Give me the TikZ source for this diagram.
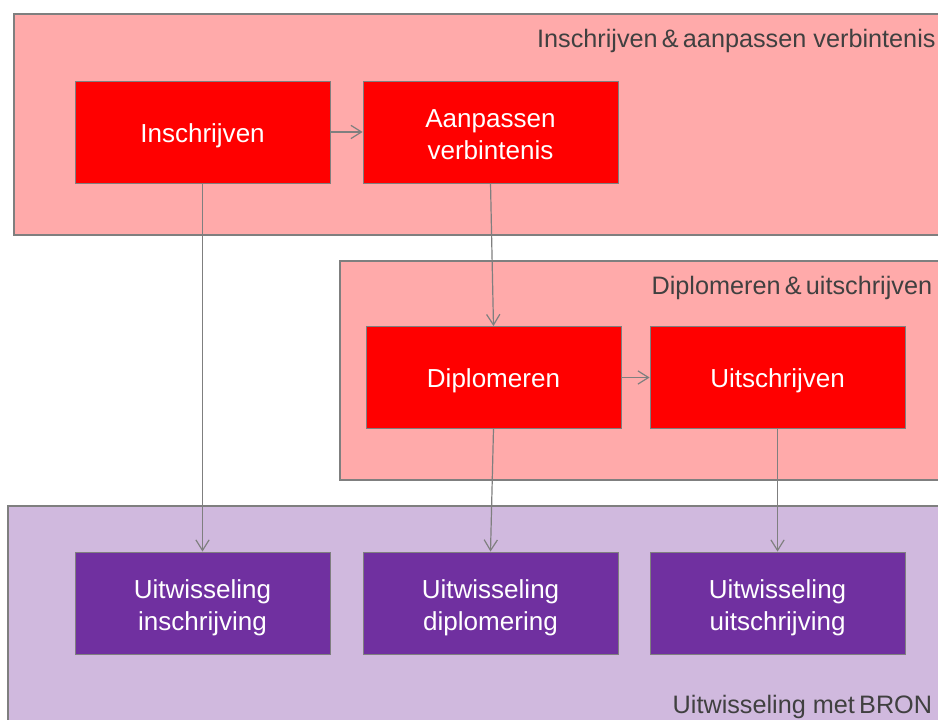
\documentclass[tikz,border=0pt]{standalone}
\usepackage{fontspec}
\setmainfont{Liberation Sans}
\usetikzlibrary{arrows.meta}

\definecolor{procred}{HTML}{FF0000}
\definecolor{procpurple}{HTML}{7030A0}
\definecolor{grouppink}{HTML}{FFAAAA}
\definecolor{grouplilac}{HTML}{D0B9DE}
\definecolor{edgegray}{HTML}{7F7F7F}
\definecolor{labelgray}{HTML}{404040}

\begin{document}
\begin{tikzpicture}[
    font=\fontsize{19.6}{24}\selectfont,
    group/.style={draw=edgegray, line width=1.1pt},
    proc/.style={draw=edgegray, line width=0.6pt, text=white, align=center,
        minimum width=6.747cm, minimum height=2.699cm, inner sep=0pt,
        text height=19.5pt, text depth=4pt},
    proctwo/.style={proc, text height=41.5pt, text depth=0pt},
    grouplabel/.style={anchor=base east, inner sep=0pt, text=labelgray,
        font=\fontsize{19}{23}\selectfont},
    flow/.style={draw=edgegray, line width=0.9pt, -{Straight Barb[length=8pt, width=10pt]}}
  ]
    \useasboundingbox (0,0) rectangle (24.818,19.05);
    \clip (0,0) rectangle (24.818,19.05);

    % groups
    \draw[group, fill=grouppink] (0.37,12.833) rectangle (26,18.68);
    \draw[group, fill=grouppink] (8.996,6.35) rectangle (26,12.145);
    \draw[group, fill=grouplilac] (0.212,-1) rectangle (26,5.662);

    \node[grouplabel] (lin) at (24.76,17.78) {Inschrijven\,\&\,aanpassen verbintenis};
    \node[grouplabel] (ldi) at (24.67,11.27) {Diplomeren\,\&\,uitschrijven};
    \node[grouplabel] (lbr) at (24.67,0.185) {Uitwisseling met\,BRON};

    % processes
    \node[proc, fill=procred] (insch) at (5.358,15.558) {Inschrijven};
    \node[proctwo, fill=procred] (aanp) at (12.978,15.558) {Aanpassen\\verbintenis};
    \node[proc, fill=procred] (dipl) at (13.057,9.062) {Diplomeren};
    \node[proc, fill=procred] (uitsch) at (20.572,9.062) {Uitschrijven};
    \node[proctwo, fill=procpurple] (uwinsch) at (5.358,3.096) {Uitwisseling\\inschrijving};
    \node[proctwo, fill=procpurple] (uwdipl) at (12.978,3.096) {Uitwisseling\\diplomering};
    \node[proctwo, fill=procpurple] (uwuitsch) at (20.572,3.096) {Uitwisseling\\uitschrijving};

    \draw[flow] (insch) to (aanp);
    \draw[flow] (dipl) to (uitsch);
    \draw[flow] (insch.south) to (uwinsch.north);
    \draw[flow] (aanp.south) to (dipl.north);
    \draw[flow] (dipl.south) to (uwdipl.north);
    \draw[flow] (uitsch.south) to (uwuitsch.north);
\end{tikzpicture}
\end{document}
